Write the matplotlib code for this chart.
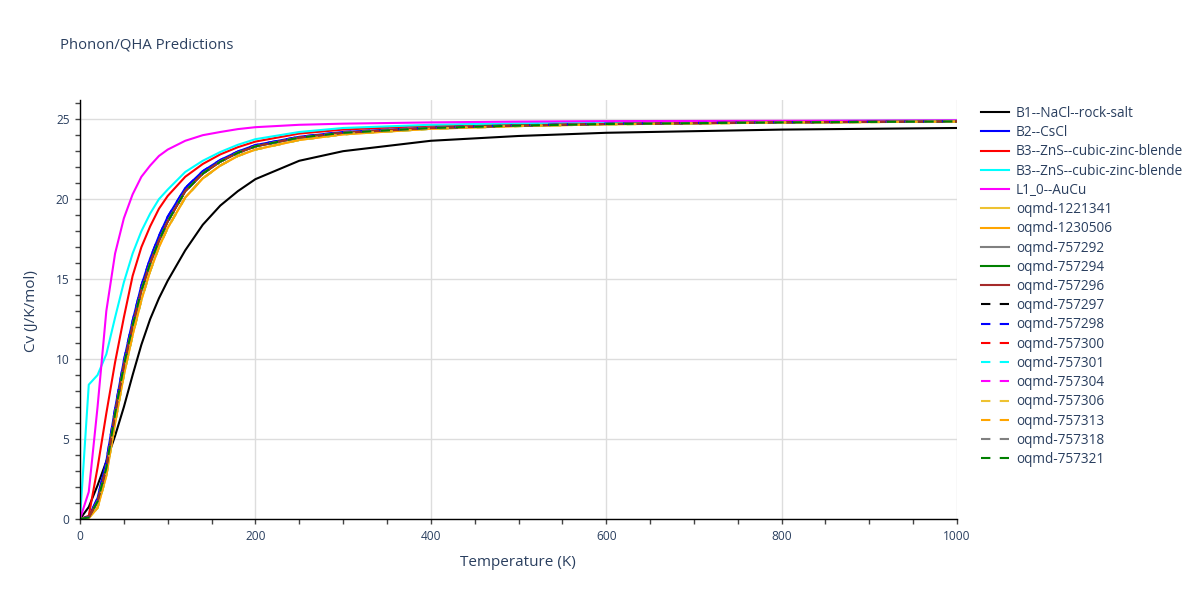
import matplotlib.pyplot as plt
from matplotlib.ticker import MultipleLocator

plt.rcParams['font.family'] = ['Open Sans', 'DejaVu Sans']

# temperature grid (K)
temps = [0, 10, 20, 30, 40, 50, 60, 70, 80, 90, 100, 120, 140, 160, 180, 200,
         250, 300, 400, 500, 600, 800, 1000]

# heat capacity curves (J/K/mol)
cv_rocksalt = [0, 0.75, 2.1, 3.6, 5.2, 7.0, 9.0, 10.9, 12.5, 13.8, 14.9, 16.8, 18.4, 19.6,
               20.5, 21.25, 22.4, 23.0, 23.65, 23.95, 24.15, 24.35, 24.45]
cv_zincblende_a = [0, 0.2, 3.2, 6.6, 9.8, 12.6, 15.2, 17.0, 18.3, 19.4, 20.2, 21.4, 22.2, 22.8,
                   23.25, 23.6, 24.1, 24.35, 24.6, 24.72, 24.8, 24.87, 24.9]
cv_zincblende_b = [0, 8.4, 9.0, 10.3, 12.6, 14.8, 16.6, 18.0, 19.1, 20.0, 20.6, 21.7, 22.4, 22.95,
                   23.4, 23.75, 24.2, 24.45, 24.65, 24.75, 24.82, 24.88, 24.92]
cv_aucu = [0, 1.7, 7.0, 13.0, 16.6, 18.8, 20.3, 21.4, 22.1, 22.7, 23.1, 23.65, 24.0, 24.2,
           24.38, 24.5, 24.65, 24.72, 24.8, 24.85, 24.88, 24.9, 24.93]
# the bundle of oqmd curves (upper / middle / lower edge)
cv_band_hi = [0, 0.15, 1.3, 3.6, 6.9, 9.9, 12.4, 14.6, 16.3, 17.7, 18.9, 20.7, 21.75, 22.45,
              22.98, 23.38, 23.9, 24.2, 24.48, 24.62, 24.72, 24.81, 24.87]
cv_band_mid = [0, 0.1, 1.1, 3.2, 6.6, 9.6, 12.1, 14.3, 16.0, 17.4, 18.6, 20.5, 21.6, 22.35,
               22.9, 23.3, 23.85, 24.15, 24.45, 24.6, 24.7, 24.8, 24.86]
cv_band_lo = [0, 0.05, 0.7, 2.7, 6.0, 9.0, 11.5, 13.7, 15.5, 17.0, 18.2, 20.1, 21.3, 22.1,
              22.7, 23.1, 23.7, 24.05, 24.4, 24.57, 24.68, 24.79, 24.85]

names = ["B1--NaCl--rock-salt", "B2--CsCl", "B3--ZnS--cubic-zinc-blende",
         "B3--ZnS--cubic-zinc-blende", "L1_0--AuCu", "oqmd-1221341", "oqmd-1230506",
         "oqmd-757292", "oqmd-757294", "oqmd-757296", "oqmd-757297", "oqmd-757298",
         "oqmd-757300", "oqmd-757301", "oqmd-757304", "oqmd-757306", "oqmd-757313",
         "oqmd-757318", "oqmd-757321"]
curves = [cv_rocksalt, cv_band_hi, cv_zincblende_a, cv_zincblende_b, cv_aucu,
          cv_band_lo, cv_band_lo, cv_band_mid, cv_band_mid, cv_band_mid,
          cv_band_mid, cv_band_hi, cv_band_mid, cv_band_lo, cv_band_mid,
          cv_band_lo, cv_band_lo, cv_band_mid, cv_band_mid]
colors = ["black", "blue", "red", "cyan", "magenta", "#eec232", "orange", "gray", "green",
          "brown", "black", "blue", "red", "cyan", "magenta", "#eec232", "orange", "gray",
          "green"]
dashed = [False] * 10 + [True] * 9

fig = plt.figure(figsize=(12, 6), dpi=100)
ax = fig.add_axes([80 / 1200, 1 - 519 / 600, 877 / 1200, 419 / 600])

handles = []
for name, cv, c, d in zip(names, curves, colors, dashed):
    if d:
        ln, = ax.plot(temps, cv, color=c, lw=1.5, dashes=(4.5, 4.5), label=name)
    else:
        ln, = ax.plot(temps, cv, color=c, lw=1.5, label=name)
    handles.append(ln)

ax.set_xlim(0, 1000)
ax.set_ylim(0, 26.2)
ax.xaxis.set_major_locator(MultipleLocator(200))
ax.xaxis.set_minor_locator(MultipleLocator(50))
ax.yaxis.set_major_locator(MultipleLocator(5))
ax.yaxis.set_minor_locator(MultipleLocator(1))
ax.grid(True, which='major', color='#dddddd', lw=1)
ax.set_axisbelow(True)
for s in ['top', 'right']:
    ax.spines[s].set_visible(False)
for s in ['left', 'bottom']:
    ax.spines[s].set_color('black')
    ax.spines[s].set_linewidth(1)
ax.tick_params(which='both', direction='out', length=3.6, width=1, color='#444444',
               labelsize=8.6, labelcolor='#2a3f5f', pad=4)

fig.text(60 / 1200, 1 - 45 / 600, "Phonon/QHA Predictions", fontsize=10.7, color='#2a3f5f',
         va='center', ha='left')
fig.text(518 / 1200, 1 - 563 / 600, "Temperature (K)", fontsize=11, color='#2a3f5f',
         va='center', ha='center')
fig.text(32 / 1200, 1 - 311 / 600, "Cv (J/K/mol)", fontsize=11, color='#2a3f5f',
         va='center', ha='center', rotation=90)

fig.legend(handles=handles, loc='upper left', bbox_to_anchor=(981 / 1200, 1 - 106 / 600),
           frameon=False, fontsize=9.8, handlelength=2.06, handletextpad=0.51,
           labelspacing=0.31, borderaxespad=0, borderpad=0, labelcolor='#2a3f5f')

fig.savefig("out.png", dpi=100)
